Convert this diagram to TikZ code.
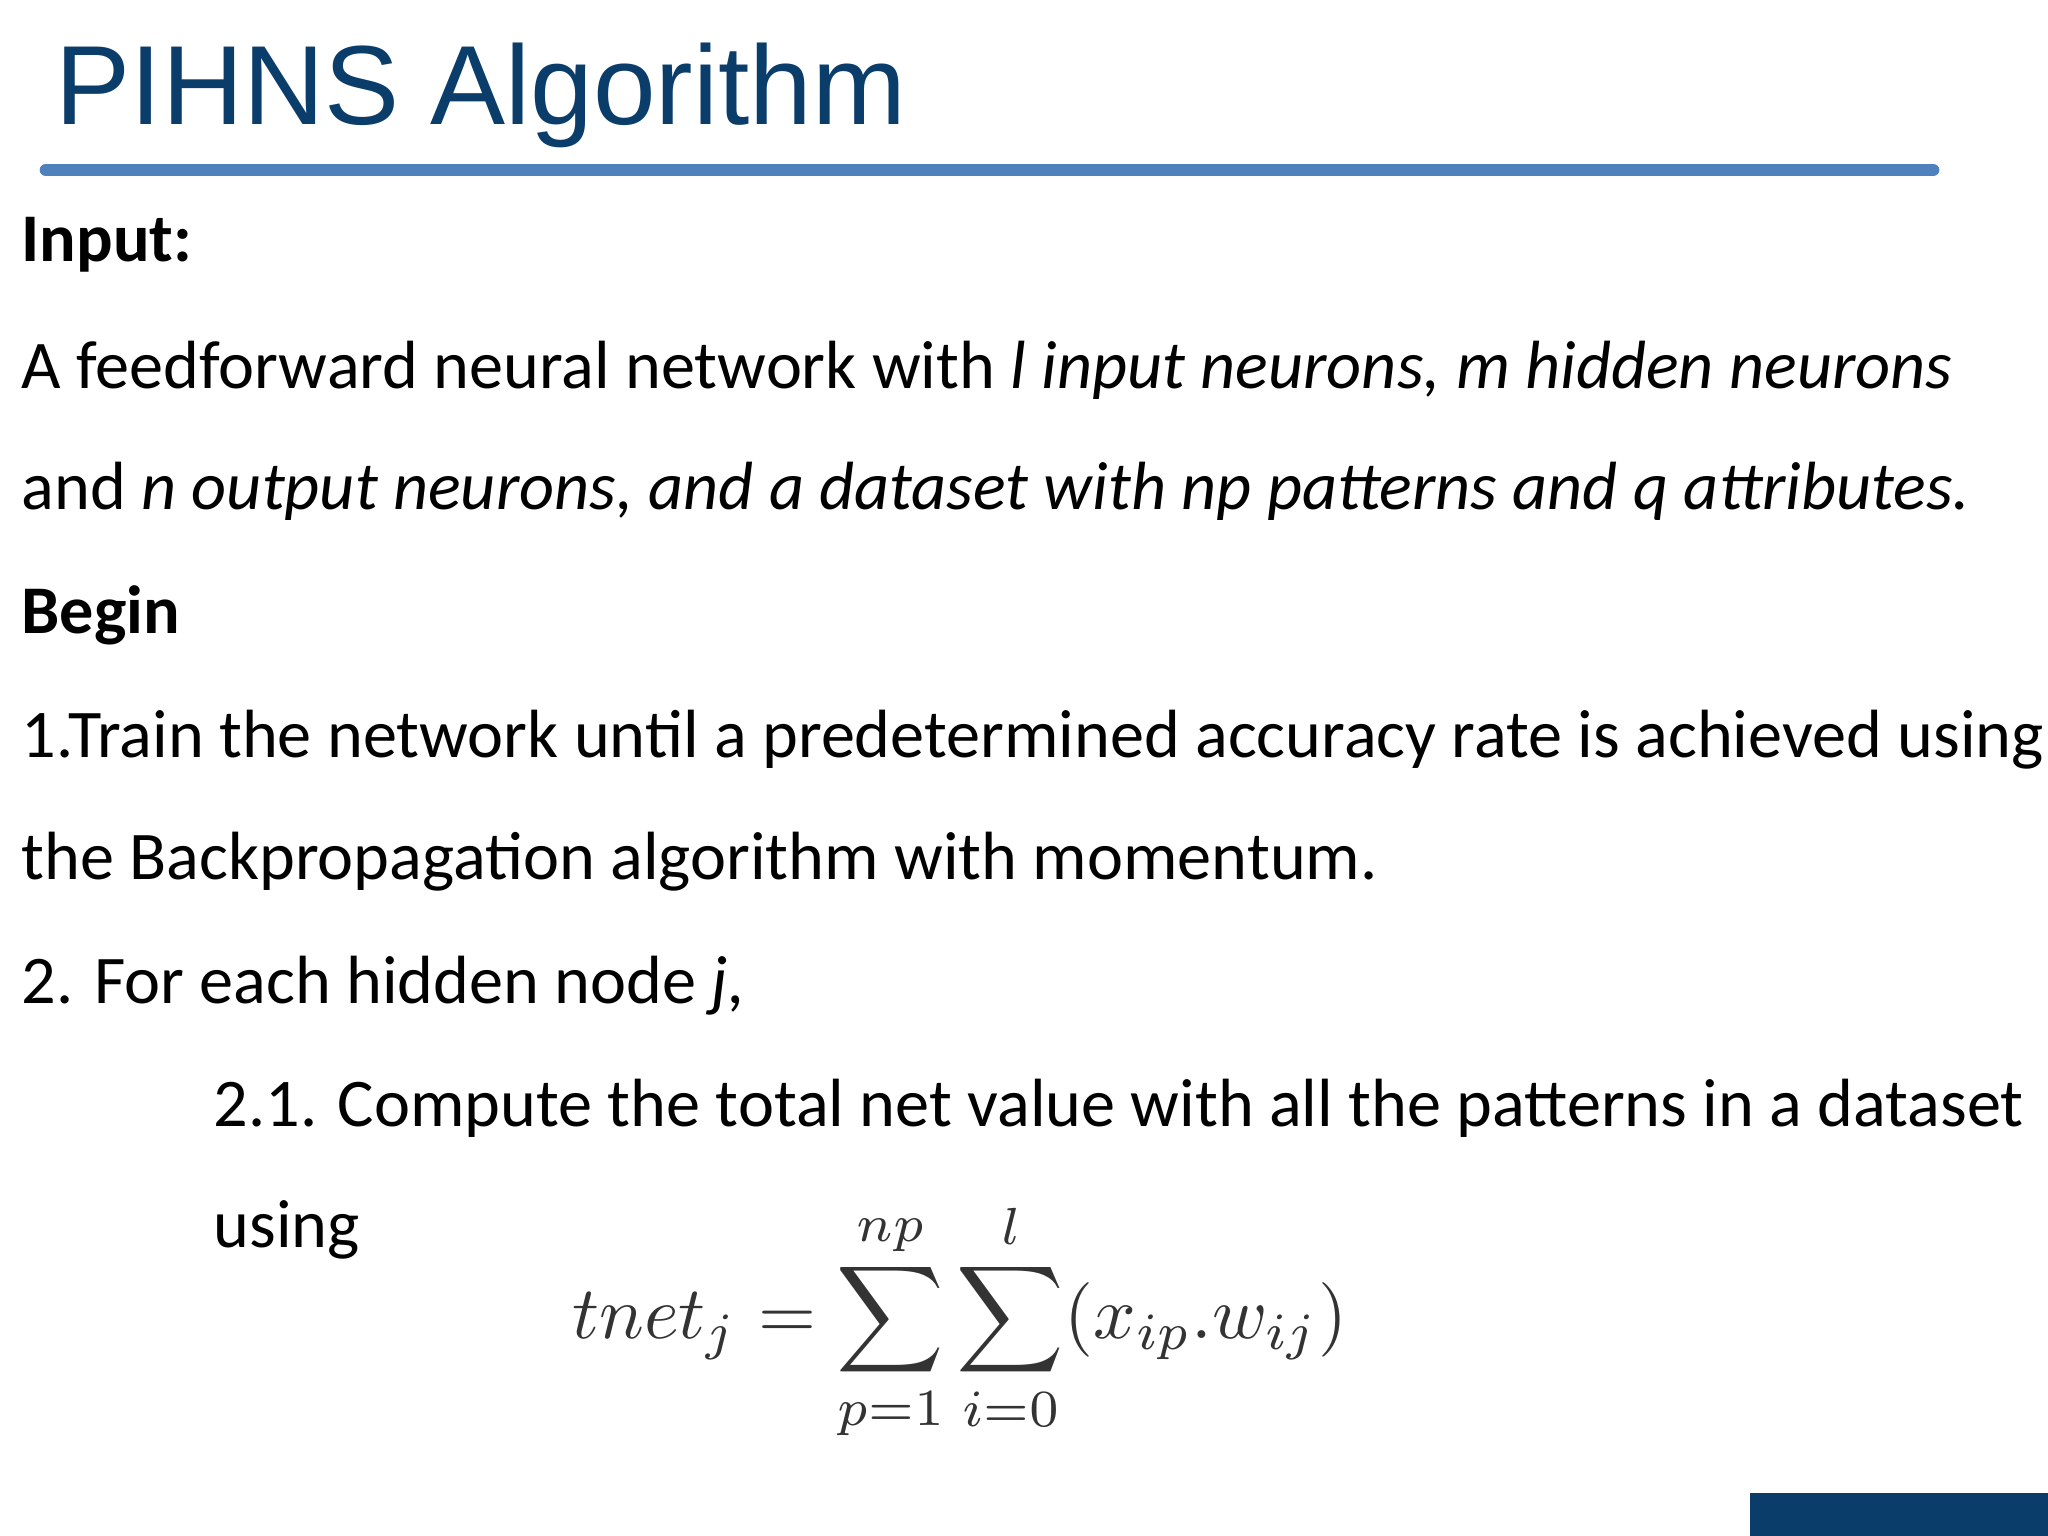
\documentclass[tikz,border=0pt]{standalone}
\usepackage{amsmath}
\usepackage{fontspec}
\setmainfont{Carlito}
\newfontfamily\titlefont{Liberation Sans}
\definecolor{titleblue}{HTML}{0B3D6B}
\definecolor{rulecol}{HTML}{4F81BD}
\begin{document}
\begin{tikzpicture}[x=0.01cm,y=-0.01cm,
  body/.style={anchor=base west,inner sep=0pt,font=\fontsize{19.4}{22}\selectfont}]
\useasboundingbox[fill=white] (0,0) rectangle (2048,1536);
\node[anchor=base west,inner sep=0pt,text=titleblue,font=\titlefont\fontsize{32}{36}\selectfont] (title) at (55,124) {PIHNS Algorithm};
\draw[rulecol,line width=3.6pt,line cap=round] (46,170) -- (1933,170);
\node[body,font=\bfseries\fontsize{19.4}{22}\selectfont] (in) at (21,261) {Input:};
\node[body] (l1) at (21,388) {A feedforward neural network with \textit{l input neurons, m hidden neurons}};
\node[body] (l2) at (21,509) {and \textit{n output neurons, and a dataset with np patterns and q attributes.}};
\node[body,font=\bfseries\fontsize{19.4}{22}\selectfont] (beg) at (21,633) {Begin};
\node[body] (l3) at (21,757) {1.Train the network until a predetermined accuracy rate is achieved using};
\node[body] (l4) at (21,879) {the Backpropagation algorithm with momentum.};
\node[body] (l5) at (21,1003) {2. For each hidden node \textit{j,}};
\node[body] (l6) at (213,1126) {2.1. Compute the total net value with all the patterns in a dataset};
\node[body] (l7) at (213,1247) {using};
\node[inner sep=0pt,text=black!80,scale=2.12] (eq) at (960,1322)
  {$\displaystyle tnet_j=\sum_{p=1}^{np}\sum_{i=0}^{l}(x_{ip}.w_{ij})$};
\fill[titleblue] (1750,1493) rectangle (2048,1536);
\end{tikzpicture}
\end{document}
